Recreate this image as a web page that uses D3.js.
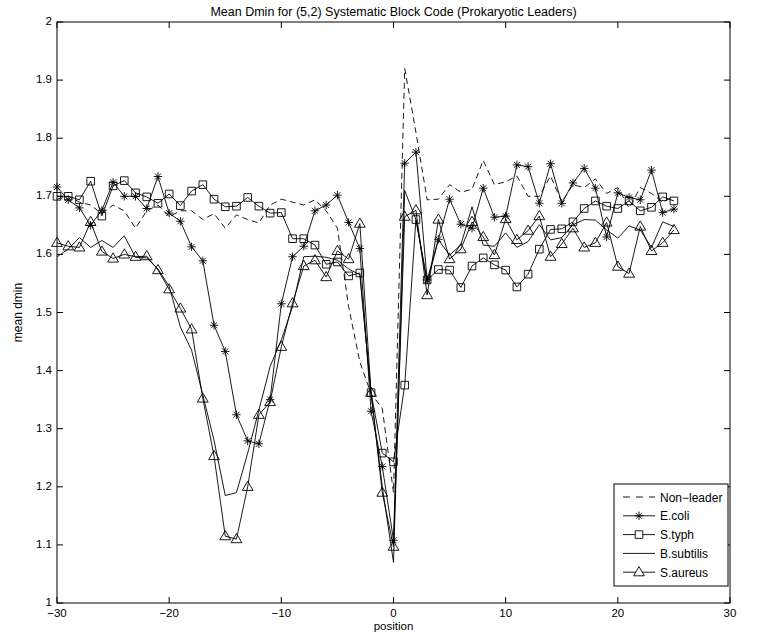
<!DOCTYPE html>
<html lang="en">
<head>
<meta charset="utf-8">
<title>Mean Dmin</title>
<script src="https://d3js.org/d3.v7.min.js"></script>
<style>
  body { margin: 0; background: #fff; }
  text { font-family: "Liberation Sans", Arial, sans-serif; fill: #000; }
</style>
</head>
<body>
<script>
var positions = [-30,-29,-28,-27,-26,-25,-24,-23,-22,-21,-20,-19,-18,-17,-16,-15,-14,-13,-12,-11,
  -10,-9,-8,-7,-6,-5,-4,-3,-2,-1,0,1,2,3,4,5,6,7,8,9,10,11,12,13,14,15,16,17,18,19,20,21,22,23,24,25];

var nonLeader = [1.695,1.700,1.690,1.685,1.670,1.685,1.675,1.645,1.675,1.685,1.665,1.675,1.675,1.660,1.670,1.645,
  1.668,1.660,1.654,1.685,1.695,1.690,1.685,1.694,1.675,1.645,1.510,1.415,1.360,1.335,1.190,1.920,1.810,1.694,
  1.695,1.720,1.707,1.712,1.762,1.720,1.725,1.735,1.700,1.700,1.735,1.690,1.720,1.715,1.730,1.705,1.715,1.680,
  1.715,1.705,1.690,1.700];

var ecoli = [1.716,1.694,1.680,1.650,1.676,1.724,1.700,1.700,1.679,1.734,1.671,1.657,1.613,1.589,1.478,1.433,
  1.324,1.279,1.274,1.350,1.515,1.596,1.614,1.675,1.685,1.702,1.655,1.610,1.330,1.235,1.108,1.757,1.776,1.556,
  1.626,1.695,1.652,1.645,1.714,1.664,1.666,1.754,1.751,1.688,1.756,1.688,1.723,1.748,1.714,1.630,1.706,1.698,
  1.694,1.745,1.672,1.678];

var styph = [1.700,1.700,1.694,1.726,1.666,1.718,1.727,1.706,1.699,1.688,1.704,1.684,1.709,1.720,1.695,1.682,
  1.683,1.698,1.683,1.671,1.672,1.627,1.627,1.616,1.583,1.587,1.563,1.568,1.362,1.258,1.243,1.375,1.660,1.556,
  1.574,1.573,1.543,1.580,1.594,1.582,1.573,1.544,1.566,1.609,1.643,1.644,1.656,1.679,1.692,1.683,1.679,1.692,
  1.675,1.681,1.699,1.692];

var bsubtilis = [1.596,1.609,1.629,1.612,1.624,1.612,1.632,1.595,1.594,1.575,1.545,1.475,1.435,1.358,1.280,1.185,
  1.190,1.258,1.332,1.407,1.453,1.510,1.596,1.597,1.595,1.590,1.575,1.565,1.360,1.200,1.070,1.710,1.660,1.550,
  1.625,1.599,1.616,1.682,1.616,1.614,1.637,1.612,1.622,1.651,1.625,1.629,1.651,1.660,1.659,1.642,1.628,1.649,
  1.642,1.612,1.656,1.648];

var saureus = [1.620,1.614,1.612,1.656,1.605,1.593,1.600,1.596,1.597,1.573,1.540,1.507,1.471,1.352,1.253,1.115,
  1.110,1.200,1.324,1.346,1.441,1.516,1.580,1.590,1.561,1.606,1.592,1.653,1.362,1.190,1.097,1.665,1.676,1.530,
  1.660,1.592,1.609,1.656,1.630,1.599,1.661,1.625,1.641,1.666,1.596,1.618,1.645,1.612,1.620,1.655,1.579,1.567,
  1.648,1.606,1.620,1.642];

var seriesNames = ["Non\u2212leader", "E.coli", "S.typh", "B.subtilis", "S.aureus"];
var seriesValues = [nonLeader, ecoli, styph, bsubtilis, saureus];
var seriesMarkers = ["none", "star", "square", "none", "triangle"];
var seriesDash = ["6,4", null, null, null, null];

var xTicks = [-30, -20, -10, 0, 10, 20, 30];
var yTicks = [1, 1.1, 1.2, 1.3, 1.4, 1.5, 1.6, 1.7, 1.8, 1.9, 2];

var width = 769, height = 633;
var margin = {left: 57, right: 39, top: 22, bottom: 30};

var svg = d3.select("body").append("svg")
  .attr("width", width)
  .attr("height", height);

var x = d3.scaleLinear().domain([-30, 30]).range([margin.left, width - margin.right]);
var y = d3.scaleLinear().domain([1, 2]).range([height - margin.bottom, margin.top]);

// marker shapes
function markerPath(kind) {
  if (kind == "star") {
    var r = 4.2, a = 3;
    return "M" + (-r) + ",0H" + r + "M0," + (-r) + "V" + r +
      "M" + (-a) + "," + (-a) + "L" + a + "," + a + "M" + (-a) + "," + a + "L" + a + "," + (-a);
  }
  if (kind == "square") return "M-3.8,-3.8H3.8V3.8H-3.8Z";
  if (kind == "triangle") return "M0,-5.6L5.4,3.6H-5.4Z";
  return "";
}

// axis box
svg.append("rect")
  .attr("x", x(-30)).attr("y", y(2))
  .attr("width", x(30) - x(-30)).attr("height", y(1) - y(2))
  .attr("fill", "none").attr("stroke", "#000").attr("stroke-width", 1);

var tick = 6;
var axisG = svg.append("g");

xTicks.forEach(function(t) {
  axisG.append("line").attr("x1", x(t)).attr("x2", x(t))
    .attr("y1", y(1)).attr("y2", y(1) - tick).attr("stroke", "#000");
  axisG.append("line").attr("x1", x(t)).attr("x2", x(t))
    .attr("y1", y(2)).attr("y2", y(2) + tick).attr("stroke", "#000");
  axisG.append("text").attr("x", x(t)).attr("y", y(1) + 14)
    .attr("text-anchor", "middle").attr("font-size", 11.5)
    .text(d3.format("")(t).replace("-", "\u2212"));
});

yTicks.forEach(function(t) {
  axisG.append("line").attr("x1", x(-30)).attr("x2", x(-30) + tick)
    .attr("y1", y(t)).attr("y2", y(t)).attr("stroke", "#000");
  axisG.append("line").attr("x1", x(30)).attr("x2", x(30) - tick)
    .attr("y1", y(t)).attr("y2", y(t)).attr("stroke", "#000");
  axisG.append("text").attr("x", x(-30) - 5).attr("y", y(t) + 3)
    .attr("text-anchor", "end").attr("font-size", 11.5)
    .text(d3.format("")(t));
});

svg.append("text").attr("x", (x(-30) + x(30)) / 2).attr("y", 16)
  .attr("text-anchor", "middle").attr("font-size", 12.5)
  .text("Mean Dmin for (5,2) Systematic Block Code (Prokaryotic Leaders)");

svg.append("text").attr("x", (x(-30) + x(30)) / 2).attr("y", 630)
  .attr("text-anchor", "middle").attr("font-size", 11.5)
  .text("position");

svg.append("text")
  .attr("transform", "translate(22," + ((y(1) + y(2)) / 2) + ") rotate(-90)")
  .attr("text-anchor", "middle").attr("font-size", 12)
  .text("mean dmin");

// series
var line = d3.line()
  .x(function(d, i) { return x(positions[i]); })
  .y(function(d) { return y(d); });

seriesValues.forEach(function(vals, k) {
  var g = svg.append("g");
  g.append("path")
    .attr("d", line(vals))
    .attr("fill", "none")
    .attr("stroke", "#000")
    .attr("stroke-width", 0.9)
    .attr("stroke-dasharray", seriesDash[k]);
  if (seriesMarkers[k] != "none") {
    g.selectAll("path.m")
      .data(vals)
      .enter()
      .append("path")
      .attr("class", "m")
      .attr("transform", function(d, i) { return "translate(" + x(positions[i]) + "," + y(d) + ")"; })
      .attr("d", markerPath(seriesMarkers[k]))
      .attr("fill", "none")
      .attr("stroke", "#000")
      .attr("stroke-width", 0.9);
  }
});

// legend
var lg = svg.append("g").attr("transform", "translate(614,484)");
lg.append("rect").attr("width", 114).attr("height", 102)
  .attr("fill", "#fff").attr("stroke", "#000");
seriesNames.forEach(function(name, k) {
  var yy = 13 + k * 18.8;
  lg.append("line").attr("x1", 9).attr("x2", 41).attr("y1", yy).attr("y2", yy)
    .attr("stroke", "#000").attr("stroke-width", 0.9)
    .attr("stroke-dasharray", seriesDash[k] ? "7,6" : null);
  if (seriesMarkers[k] != "none") {
    lg.append("path").attr("transform", "translate(25," + yy + ")")
      .attr("d", markerPath(seriesMarkers[k]))
      .attr("fill", "#fff").attr("stroke", "#000").attr("stroke-width", 0.9);
  }
  lg.append("text").attr("x", 46).attr("y", yy + 4.5)
    .attr("font-size", 12).text(name);
});
</script>
</body>
</html>
